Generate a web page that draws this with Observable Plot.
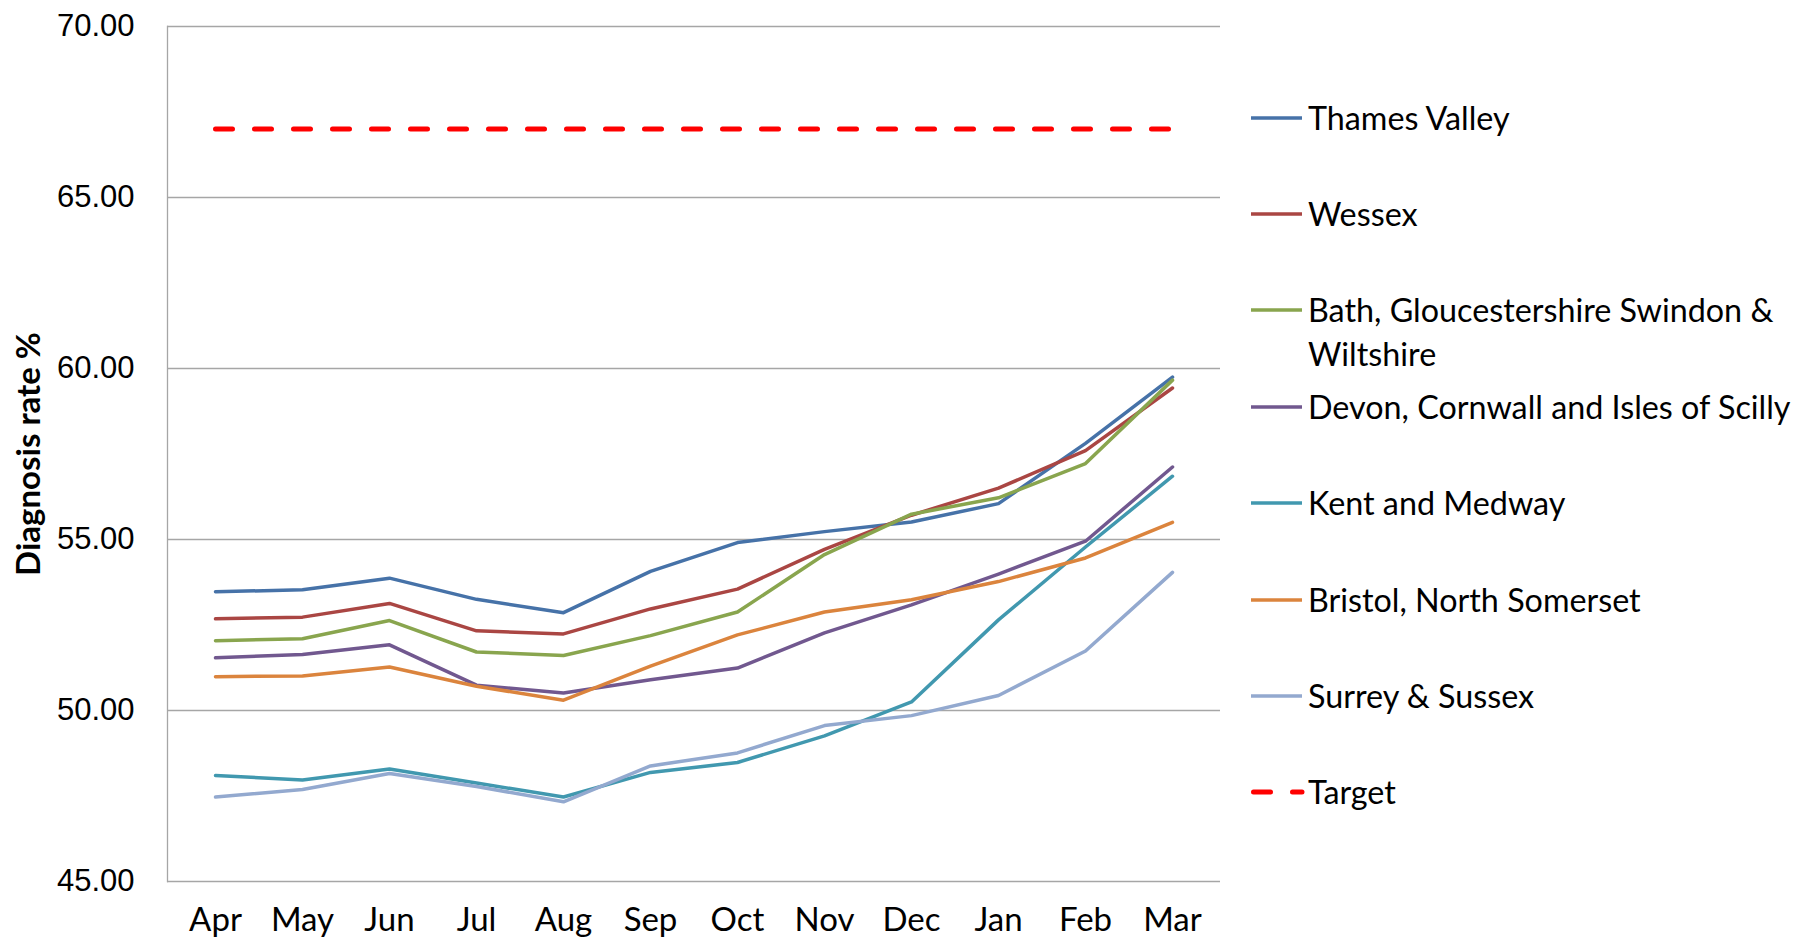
<!DOCTYPE html>
<html>
<head>
<meta charset="utf-8">
<script src="https://cdn.jsdelivr.net/npm/d3@7"></script>
<script src="https://cdn.jsdelivr.net/npm/@observablehq/plot@0.6"></script>
<style>
  html, body { margin: 0; padding: 0; background: #fff; }
  #wrap { position: relative; width: 1795px; height: 942px; overflow: hidden; background: #fff; }
  #chart svg { display: block; }
  #chart [aria-label="y-axis tick label"] text { font-family: "Liberation Sans", sans-serif; font-size: 31px; fill: #000; }
  #chart [aria-label="x-axis tick label"] text { font-family: Lato, sans-serif; font-size: 33px; fill: #000; }
  .leg { position: absolute; left: 1250px; font-family: Lato, sans-serif; font-size: 32.3px; line-height: 44px; color: #000; white-space: nowrap; }
  .leg svg { position: absolute; left: 0; top: 0; }
  .leg span { position: absolute; left: 58px; top: 0; }
</style>
</head>
<body>
<div id="wrap">
  <div id="chart"></div>
  <div id="legend"></div>
</div>
<script>
// ---- data ----
const months = ["Apr", "May", "Jun", "Jul", "Aug", "Sep", "Oct", "Nov", "Dec", "Jan", "Feb", "Mar"];
const thamesValley = [53.47, 53.53, 53.87, 53.25, 52.86, 54.07, 54.91, 55.23, 55.51, 56.05, 57.81, 59.75];
const wessex       = [52.68, 52.73, 53.13, 52.33, 52.24, 52.97, 53.55, 54.71, 55.71, 56.50, 57.60, 59.43];
const bathGloucs   = [52.04, 52.10, 52.63, 51.71, 51.61, 52.19, 52.88, 54.56, 55.74, 56.22, 57.22, 59.66];
const devonCornwall= [51.54, 51.64, 51.92, 50.74, 50.51, 50.90, 51.24, 52.27, 53.09, 53.99, 54.95, 57.12];
const kentMedway   = [48.10, 47.97, 48.29, 47.88, 47.47, 48.19, 48.48, 49.26, 50.25, 52.65, 54.78, 56.85];
const bristolNS    = [50.99, 51.01, 51.27, 50.71, 50.30, 51.30, 52.21, 52.88, 53.24, 53.77, 54.46, 55.50];
const surreySussex = [47.47, 47.69, 48.16, 47.78, 47.33, 48.38, 48.76, 49.56, 49.85, 50.44, 51.74, 54.04];
const target       = [67, 67, 67, 67, 67, 67, 67, 67, 67, 67, 67, 67];

const seriesNames = [
  "Thames Valley",
  "Wessex",
  "Bath, Gloucestershire Swindon & Wiltshire",
  "Devon, Cornwall and Isles of Scilly",
  "Kent and Medway",
  "Bristol, North Somerset",
  "Surrey & Sussex"
];
const seriesValues = [thamesValley, wessex, bathGloucs, devonCornwall, kentMedway, bristolNS, surreySussex];
const seriesColors = ["#4672A8", "#AA4643", "#89A54E", "#71588F", "#4198AF", "#DB843D", "#93A9CF"];
const legendLabels = [
  ["Thames Valley"],
  ["Wessex"],
  ["Bath, Gloucestershire Swindon &", "Wiltshire"],
  ["Devon, Cornwall and Isles of Scilly"],
  ["Kent and Medway"],
  ["Bristol, North Somerset"],
  ["Surrey & Sussex"]
];
const targetName = "Target";
const targetColor = "#FF0000";
const yTicks = [45, 50, 55, 60, 65, 70];
const yTitle = "Diagnosis rate %";

// ---- build table ----
const rows = seriesNames.flatMap((name, s) => months.map((m, i) => ({series: name, month: m, value: seriesValues[s][i]})));
const targetRows = months.map((m, i) => ({month: m, value: target[i]}));

const grid = "#A6A6A6";

const chart = Plot.plot({
  width: 1795,
  height: 942,
  marginLeft: 167,
  marginRight: 575,
  marginTop: 26,
  marginBottom: 61,
  style: {background: "#fff"},
  x: {type: "point", domain: months, padding: 0.5},
  y: {domain: [45, 70]},
  color: {domain: seriesNames, range: seriesColors},
  marks: [
    Plot.ruleY(yTicks, {stroke: grid, strokeWidth: 1.3}),
    Plot.frame({anchor: "left", stroke: grid, strokeWidth: 1.3}),
    Plot.axisY({ticks: yTicks, tickSize: 0, tickPadding: 33, tickFormat: d => d.toFixed(2), label: null, fontSize: 31}),
    Plot.axisX({tickSize: 0, tickPadding: 26, label: null, fontSize: 33}),
    Plot.text([yTitle], {text: d => d, frameAnchor: "left", textAnchor: "middle", dx: -138, rotate: -90, fontWeight: "bold", fontSize: 33, fontFamily: "Lato, sans-serif", fill: "#000"}),
    Plot.line(rows, {x: "month", y: "value", z: "series", stroke: "series", strokeWidth: 3.5, strokeLinejoin: "round"}),
    Plot.line(targetRows, {x: "month", y: "value", stroke: targetColor, strokeWidth: 5, strokeDasharray: "17,22", strokeLinecap: "round"})
  ]
});
document.getElementById("chart").appendChild(chart);

// ---- legend (right side) ----
const legend = document.getElementById("legend");
const rowY0 = 117.5, rowStep = 96.4;
function addItem(i, lines, color, dashed) {
  const cy = rowY0 + i * rowStep;
  const div = document.createElement("div");
  div.className = "leg";
  div.style.top = (cy - 22) + "px";
  const ns = "http://www.w3.org/2000/svg";
  const svg = document.createElementNS(ns, "svg");
  svg.setAttribute("width", 56); svg.setAttribute("height", 44);
  const ln = document.createElementNS(ns, "line");
  ln.setAttribute("y1", 22); ln.setAttribute("y2", 22);
  ln.setAttribute("stroke", color);
  if (dashed) {
    ln.setAttribute("x1", 3.5); ln.setAttribute("x2", 52);
    ln.setAttribute("stroke-width", 5);
    ln.setAttribute("stroke-dasharray", "17,22");
    ln.setAttribute("stroke-linecap", "round");
  } else {
    ln.setAttribute("x1", 1); ln.setAttribute("x2", 52);
    ln.setAttribute("stroke-width", 3.5);
  }
  svg.appendChild(ln);
  div.appendChild(svg);
  const span = document.createElement("span");
  span.innerHTML = lines.map(t => t.replace(/&/g, "&amp;")).join("<br>");
  div.appendChild(span);
  legend.appendChild(div);
}
seriesNames.forEach((n, i) => addItem(i, legendLabels[i], seriesColors[i], false));
addItem(seriesNames.length, [targetName], targetColor, true);
</script>
</body>
</html>
